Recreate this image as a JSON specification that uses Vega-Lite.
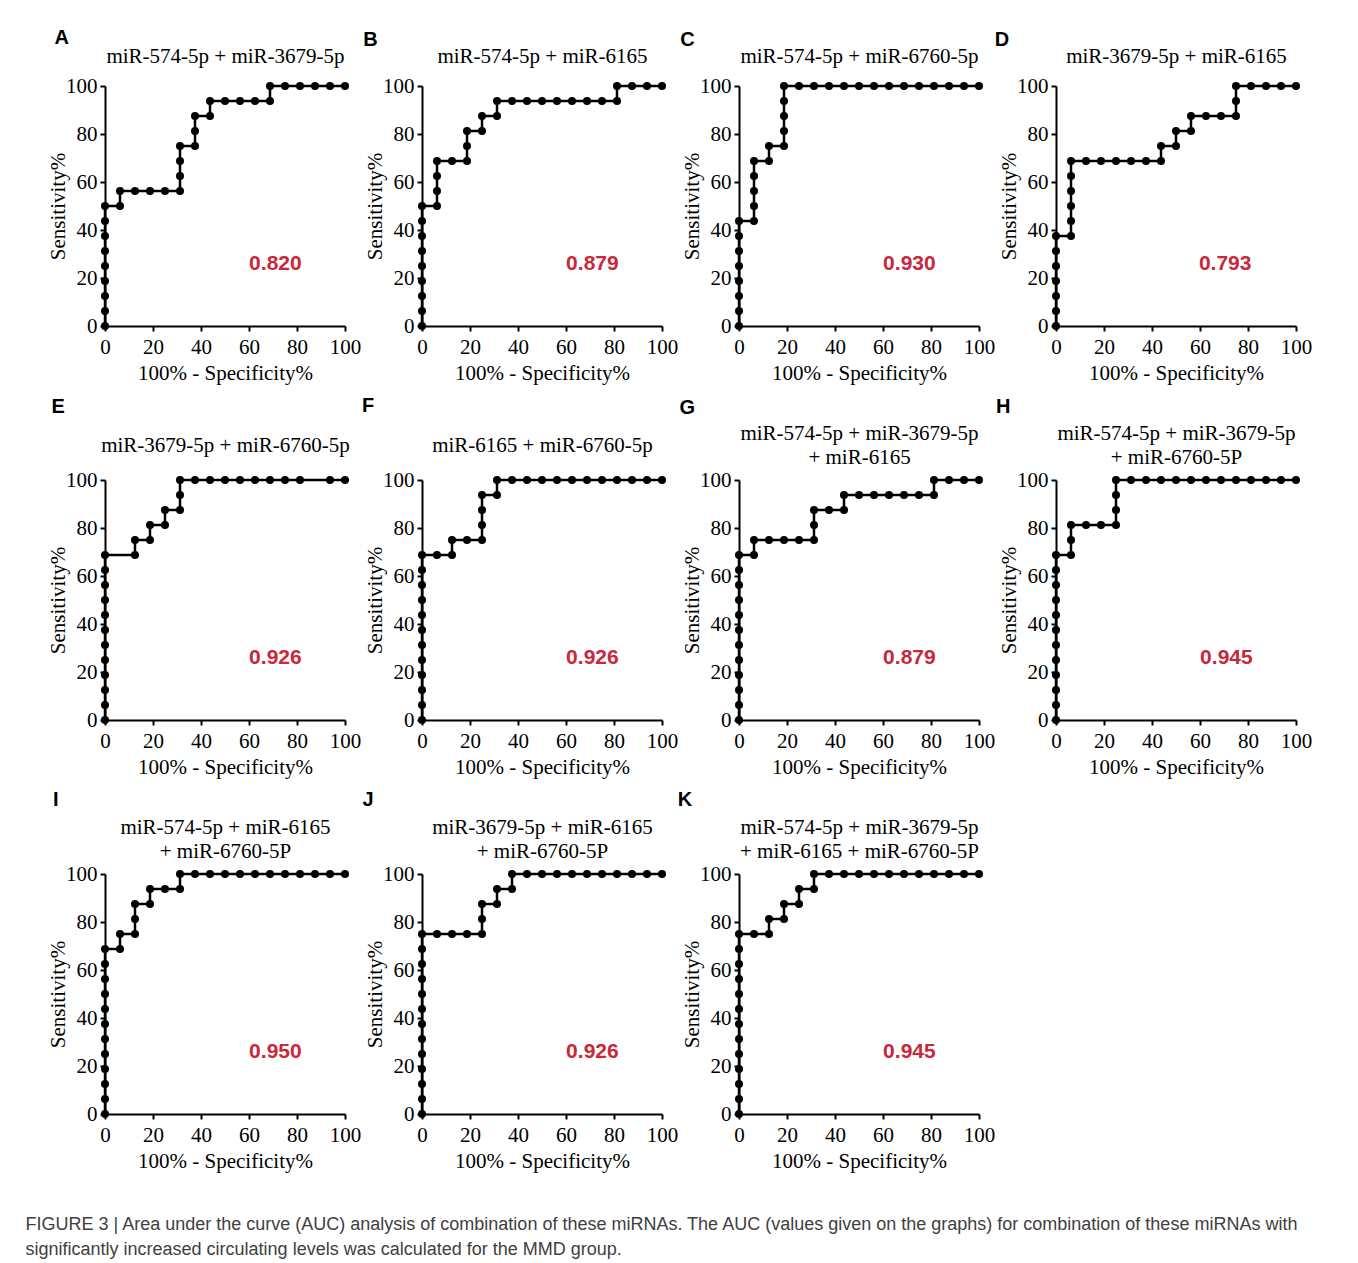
{
"$schema": "https://vega.github.io/schema/vega-lite/v6.json",
"background": "white",
"padding": {"left": 25, "top": 28, "right": 10, "bottom": 15},
"bounds": "flush",
"columns": 4,
"spacing": {"row": 154, "column": 77},
"title": {"text": ["FIGURE 3 | Area under the curve (AUC) analysis of combination of these miRNAs. The AUC (values given on the graphs) for combination of these miRNAs with", "significantly increased circulating levels was calculated for the MMD group."], "orient": "bottom", "anchor": "start", "frame": "bounds", "font": "Liberation Sans", "fontSize": 18, "fontWeight": "normal", "color": "#404040", "offset": 45, "dx": -22, "lineHeight": 25},
"datasets": {
"roc": [
{"p":"A","i":0,"x":0,"y":0},{"p":"A","i":1,"x":0,"y":6.25},{"p":"A","i":2,"x":0,"y":12.5},{"p":"A","i":3,"x":0,"y":18.75},{"p":"A","i":4,"x":0,"y":25},{"p":"A","i":5,"x":0,"y":31.25},{"p":"A","i":6,"x":0,"y":37.5},{"p":"A","i":7,"x":0,"y":43.75},{"p":"A","i":8,"x":0,"y":50},{"p":"A","i":9,"x":6.25,"y":50},{"p":"A","i":10,"x":6.25,"y":56.25},{"p":"A","i":11,"x":12.5,"y":56.25},{"p":"A","i":12,"x":18.75,"y":56.25},{"p":"A","i":13,"x":25,"y":56.25},{"p":"A","i":14,"x":31.25,"y":56.25},{"p":"A","i":15,"x":31.25,"y":62.5},{"p":"A","i":16,"x":31.25,"y":68.75},{"p":"A","i":17,"x":31.25,"y":75},{"p":"A","i":18,"x":37.5,"y":75},{"p":"A","i":19,"x":37.5,"y":81.25},{"p":"A","i":20,"x":37.5,"y":87.5},{"p":"A","i":21,"x":43.75,"y":87.5},{"p":"A","i":22,"x":43.75,"y":93.75},{"p":"A","i":23,"x":50,"y":93.75},{"p":"A","i":24,"x":56.25,"y":93.75},{"p":"A","i":25,"x":62.5,"y":93.75},{"p":"A","i":26,"x":68.75,"y":93.75},{"p":"A","i":27,"x":68.75,"y":100},{"p":"A","i":28,"x":75,"y":100},{"p":"A","i":29,"x":81.25,"y":100},{"p":"A","i":30,"x":87.5,"y":100},{"p":"A","i":31,"x":93.75,"y":100},{"p":"A","i":32,"x":100,"y":100},
{"p":"B","i":0,"x":0,"y":0},{"p":"B","i":1,"x":0,"y":6.25},{"p":"B","i":2,"x":0,"y":12.5},{"p":"B","i":3,"x":0,"y":18.75},{"p":"B","i":4,"x":0,"y":25},{"p":"B","i":5,"x":0,"y":31.25},{"p":"B","i":6,"x":0,"y":37.5},{"p":"B","i":7,"x":0,"y":43.75},{"p":"B","i":8,"x":0,"y":50},{"p":"B","i":9,"x":6.25,"y":50},{"p":"B","i":10,"x":6.25,"y":56.25},{"p":"B","i":11,"x":6.25,"y":62.5},{"p":"B","i":12,"x":6.25,"y":68.75},{"p":"B","i":13,"x":12.5,"y":68.75},{"p":"B","i":14,"x":18.75,"y":68.75},{"p":"B","i":15,"x":18.75,"y":75},{"p":"B","i":16,"x":18.75,"y":81.25},{"p":"B","i":17,"x":25,"y":81.25},{"p":"B","i":18,"x":25,"y":87.5},{"p":"B","i":19,"x":31.25,"y":87.5},{"p":"B","i":20,"x":31.25,"y":93.75},{"p":"B","i":21,"x":37.5,"y":93.75},{"p":"B","i":22,"x":43.75,"y":93.75},{"p":"B","i":23,"x":50,"y":93.75},{"p":"B","i":24,"x":56.25,"y":93.75},{"p":"B","i":25,"x":62.5,"y":93.75},{"p":"B","i":26,"x":68.75,"y":93.75},{"p":"B","i":27,"x":75,"y":93.75},{"p":"B","i":28,"x":81.25,"y":93.75},{"p":"B","i":29,"x":81.25,"y":100},{"p":"B","i":30,"x":87.5,"y":100},{"p":"B","i":31,"x":93.75,"y":100},{"p":"B","i":32,"x":100,"y":100},
{"p":"C","i":0,"x":0,"y":0},{"p":"C","i":1,"x":0,"y":6.25},{"p":"C","i":2,"x":0,"y":12.5},{"p":"C","i":3,"x":0,"y":18.75},{"p":"C","i":4,"x":0,"y":25},{"p":"C","i":5,"x":0,"y":31.25},{"p":"C","i":6,"x":0,"y":37.5},{"p":"C","i":7,"x":0,"y":43.75},{"p":"C","i":8,"x":6.25,"y":43.75},{"p":"C","i":9,"x":6.25,"y":50},{"p":"C","i":10,"x":6.25,"y":56.25},{"p":"C","i":11,"x":6.25,"y":62.5},{"p":"C","i":12,"x":6.25,"y":68.75},{"p":"C","i":13,"x":12.5,"y":68.75},{"p":"C","i":14,"x":12.5,"y":75},{"p":"C","i":15,"x":18.75,"y":75},{"p":"C","i":16,"x":18.75,"y":81.25},{"p":"C","i":17,"x":18.75,"y":87.5},{"p":"C","i":18,"x":18.75,"y":93.75},{"p":"C","i":19,"x":18.75,"y":100},{"p":"C","i":20,"x":25,"y":100},{"p":"C","i":21,"x":31.25,"y":100},{"p":"C","i":22,"x":37.5,"y":100},{"p":"C","i":23,"x":43.75,"y":100},{"p":"C","i":24,"x":50,"y":100},{"p":"C","i":25,"x":56.25,"y":100},{"p":"C","i":26,"x":62.5,"y":100},{"p":"C","i":27,"x":68.75,"y":100},{"p":"C","i":28,"x":75,"y":100},{"p":"C","i":29,"x":81.25,"y":100},{"p":"C","i":30,"x":87.5,"y":100},{"p":"C","i":31,"x":93.75,"y":100},{"p":"C","i":32,"x":100,"y":100},
{"p":"D","i":0,"x":0,"y":0},{"p":"D","i":1,"x":0,"y":6.25},{"p":"D","i":2,"x":0,"y":12.5},{"p":"D","i":3,"x":0,"y":18.75},{"p":"D","i":4,"x":0,"y":25},{"p":"D","i":5,"x":0,"y":31.25},{"p":"D","i":6,"x":0,"y":37.5},{"p":"D","i":7,"x":6.25,"y":37.5},{"p":"D","i":8,"x":6.25,"y":43.75},{"p":"D","i":9,"x":6.25,"y":50},{"p":"D","i":10,"x":6.25,"y":56.25},{"p":"D","i":11,"x":6.25,"y":62.5},{"p":"D","i":12,"x":6.25,"y":68.75},{"p":"D","i":13,"x":12.5,"y":68.75},{"p":"D","i":14,"x":18.75,"y":68.75},{"p":"D","i":15,"x":25,"y":68.75},{"p":"D","i":16,"x":31.25,"y":68.75},{"p":"D","i":17,"x":37.5,"y":68.75},{"p":"D","i":18,"x":43.75,"y":68.75},{"p":"D","i":19,"x":43.75,"y":75},{"p":"D","i":20,"x":50,"y":75},{"p":"D","i":21,"x":50,"y":81.25},{"p":"D","i":22,"x":56.25,"y":81.25},{"p":"D","i":23,"x":56.25,"y":87.5},{"p":"D","i":24,"x":62.5,"y":87.5},{"p":"D","i":25,"x":68.75,"y":87.5},{"p":"D","i":26,"x":75,"y":87.5},{"p":"D","i":27,"x":75,"y":93.75},{"p":"D","i":28,"x":75,"y":100},{"p":"D","i":29,"x":81.25,"y":100},{"p":"D","i":30,"x":87.5,"y":100},{"p":"D","i":31,"x":93.75,"y":100},{"p":"D","i":32,"x":100,"y":100},
{"p":"E","i":0,"x":0,"y":0},{"p":"E","i":1,"x":0,"y":6.25},{"p":"E","i":2,"x":0,"y":12.5},{"p":"E","i":3,"x":0,"y":18.75},{"p":"E","i":4,"x":0,"y":25},{"p":"E","i":5,"x":0,"y":31.25},{"p":"E","i":6,"x":0,"y":37.5},{"p":"E","i":7,"x":0,"y":43.75},{"p":"E","i":8,"x":0,"y":50},{"p":"E","i":9,"x":0,"y":56.25},{"p":"E","i":10,"x":0,"y":62.5},{"p":"E","i":11,"x":0,"y":68.75},{"p":"E","i":12,"x":12.5,"y":68.75},{"p":"E","i":13,"x":12.5,"y":75},{"p":"E","i":14,"x":18.75,"y":75},{"p":"E","i":15,"x":18.75,"y":81.25},{"p":"E","i":16,"x":25,"y":81.25},{"p":"E","i":17,"x":25,"y":87.5},{"p":"E","i":18,"x":31.25,"y":87.5},{"p":"E","i":19,"x":31.25,"y":93.75},{"p":"E","i":20,"x":31.25,"y":100},{"p":"E","i":21,"x":37.5,"y":100},{"p":"E","i":22,"x":43.75,"y":100},{"p":"E","i":23,"x":50,"y":100},{"p":"E","i":24,"x":56.25,"y":100},{"p":"E","i":25,"x":62.5,"y":100},{"p":"E","i":26,"x":68.75,"y":100},{"p":"E","i":27,"x":75,"y":100},{"p":"E","i":28,"x":81.25,"y":100},{"p":"E","i":29,"x":93.75,"y":100},{"p":"E","i":30,"x":100,"y":100},
{"p":"F","i":0,"x":0,"y":0},{"p":"F","i":1,"x":0,"y":6.25},{"p":"F","i":2,"x":0,"y":12.5},{"p":"F","i":3,"x":0,"y":18.75},{"p":"F","i":4,"x":0,"y":25},{"p":"F","i":5,"x":0,"y":31.25},{"p":"F","i":6,"x":0,"y":37.5},{"p":"F","i":7,"x":0,"y":43.75},{"p":"F","i":8,"x":0,"y":50},{"p":"F","i":9,"x":0,"y":56.25},{"p":"F","i":10,"x":0,"y":62.5},{"p":"F","i":11,"x":0,"y":68.75},{"p":"F","i":12,"x":6.25,"y":68.75},{"p":"F","i":13,"x":12.5,"y":68.75},{"p":"F","i":14,"x":12.5,"y":75},{"p":"F","i":15,"x":18.75,"y":75},{"p":"F","i":16,"x":25,"y":75},{"p":"F","i":17,"x":25,"y":81.25},{"p":"F","i":18,"x":25,"y":87.5},{"p":"F","i":19,"x":25,"y":93.75},{"p":"F","i":20,"x":31.25,"y":93.75},{"p":"F","i":21,"x":31.25,"y":100},{"p":"F","i":22,"x":37.5,"y":100},{"p":"F","i":23,"x":43.75,"y":100},{"p":"F","i":24,"x":50,"y":100},{"p":"F","i":25,"x":56.25,"y":100},{"p":"F","i":26,"x":62.5,"y":100},{"p":"F","i":27,"x":68.75,"y":100},{"p":"F","i":28,"x":75,"y":100},{"p":"F","i":29,"x":81.25,"y":100},{"p":"F","i":30,"x":87.5,"y":100},{"p":"F","i":31,"x":93.75,"y":100},{"p":"F","i":32,"x":100,"y":100},
{"p":"G","i":0,"x":0,"y":0},{"p":"G","i":1,"x":0,"y":6.25},{"p":"G","i":2,"x":0,"y":12.5},{"p":"G","i":3,"x":0,"y":18.75},{"p":"G","i":4,"x":0,"y":25},{"p":"G","i":5,"x":0,"y":31.25},{"p":"G","i":6,"x":0,"y":37.5},{"p":"G","i":7,"x":0,"y":43.75},{"p":"G","i":8,"x":0,"y":50},{"p":"G","i":9,"x":0,"y":56.25},{"p":"G","i":10,"x":0,"y":62.5},{"p":"G","i":11,"x":0,"y":68.75},{"p":"G","i":12,"x":6.25,"y":68.75},{"p":"G","i":13,"x":6.25,"y":75},{"p":"G","i":14,"x":12.5,"y":75},{"p":"G","i":15,"x":18.75,"y":75},{"p":"G","i":16,"x":25,"y":75},{"p":"G","i":17,"x":31.25,"y":75},{"p":"G","i":18,"x":31.25,"y":81.25},{"p":"G","i":19,"x":31.25,"y":87.5},{"p":"G","i":20,"x":37.5,"y":87.5},{"p":"G","i":21,"x":43.75,"y":87.5},{"p":"G","i":22,"x":43.75,"y":93.75},{"p":"G","i":23,"x":50,"y":93.75},{"p":"G","i":24,"x":56.25,"y":93.75},{"p":"G","i":25,"x":62.5,"y":93.75},{"p":"G","i":26,"x":68.75,"y":93.75},{"p":"G","i":27,"x":75,"y":93.75},{"p":"G","i":28,"x":81.25,"y":93.75},{"p":"G","i":29,"x":81.25,"y":100},{"p":"G","i":30,"x":87.5,"y":100},{"p":"G","i":31,"x":93.75,"y":100},{"p":"G","i":32,"x":100,"y":100},
{"p":"H","i":0,"x":0,"y":0},{"p":"H","i":1,"x":0,"y":6.25},{"p":"H","i":2,"x":0,"y":12.5},{"p":"H","i":3,"x":0,"y":18.75},{"p":"H","i":4,"x":0,"y":25},{"p":"H","i":5,"x":0,"y":31.25},{"p":"H","i":6,"x":0,"y":37.5},{"p":"H","i":7,"x":0,"y":43.75},{"p":"H","i":8,"x":0,"y":50},{"p":"H","i":9,"x":0,"y":56.25},{"p":"H","i":10,"x":0,"y":62.5},{"p":"H","i":11,"x":0,"y":68.75},{"p":"H","i":12,"x":6.25,"y":68.75},{"p":"H","i":13,"x":6.25,"y":75},{"p":"H","i":14,"x":6.25,"y":81.25},{"p":"H","i":15,"x":12.5,"y":81.25},{"p":"H","i":16,"x":18.75,"y":81.25},{"p":"H","i":17,"x":25,"y":81.25},{"p":"H","i":18,"x":25,"y":87.5},{"p":"H","i":19,"x":25,"y":93.75},{"p":"H","i":20,"x":25,"y":100},{"p":"H","i":21,"x":31.25,"y":100},{"p":"H","i":22,"x":37.5,"y":100},{"p":"H","i":23,"x":43.75,"y":100},{"p":"H","i":24,"x":50,"y":100},{"p":"H","i":25,"x":56.25,"y":100},{"p":"H","i":26,"x":62.5,"y":100},{"p":"H","i":27,"x":68.75,"y":100},{"p":"H","i":28,"x":75,"y":100},{"p":"H","i":29,"x":81.25,"y":100},{"p":"H","i":30,"x":87.5,"y":100},{"p":"H","i":31,"x":93.75,"y":100},{"p":"H","i":32,"x":100,"y":100},
{"p":"I","i":0,"x":0,"y":0},{"p":"I","i":1,"x":0,"y":6.25},{"p":"I","i":2,"x":0,"y":12.5},{"p":"I","i":3,"x":0,"y":18.75},{"p":"I","i":4,"x":0,"y":25},{"p":"I","i":5,"x":0,"y":31.25},{"p":"I","i":6,"x":0,"y":37.5},{"p":"I","i":7,"x":0,"y":43.75},{"p":"I","i":8,"x":0,"y":50},{"p":"I","i":9,"x":0,"y":56.25},{"p":"I","i":10,"x":0,"y":62.5},{"p":"I","i":11,"x":0,"y":68.75},{"p":"I","i":12,"x":6.25,"y":68.75},{"p":"I","i":13,"x":6.25,"y":75},{"p":"I","i":14,"x":12.5,"y":75},{"p":"I","i":15,"x":12.5,"y":81.25},{"p":"I","i":16,"x":12.5,"y":87.5},{"p":"I","i":17,"x":18.75,"y":87.5},{"p":"I","i":18,"x":18.75,"y":93.75},{"p":"I","i":19,"x":25,"y":93.75},{"p":"I","i":20,"x":31.25,"y":93.75},{"p":"I","i":21,"x":31.25,"y":100},{"p":"I","i":22,"x":37.5,"y":100},{"p":"I","i":23,"x":43.75,"y":100},{"p":"I","i":24,"x":50,"y":100},{"p":"I","i":25,"x":56.25,"y":100},{"p":"I","i":26,"x":62.5,"y":100},{"p":"I","i":27,"x":68.75,"y":100},{"p":"I","i":28,"x":75,"y":100},{"p":"I","i":29,"x":81.25,"y":100},{"p":"I","i":30,"x":87.5,"y":100},{"p":"I","i":31,"x":93.75,"y":100},{"p":"I","i":32,"x":100,"y":100},
{"p":"J","i":0,"x":0,"y":0},{"p":"J","i":1,"x":0,"y":6.25},{"p":"J","i":2,"x":0,"y":12.5},{"p":"J","i":3,"x":0,"y":18.75},{"p":"J","i":4,"x":0,"y":25},{"p":"J","i":5,"x":0,"y":31.25},{"p":"J","i":6,"x":0,"y":37.5},{"p":"J","i":7,"x":0,"y":43.75},{"p":"J","i":8,"x":0,"y":50},{"p":"J","i":9,"x":0,"y":56.25},{"p":"J","i":10,"x":0,"y":62.5},{"p":"J","i":11,"x":0,"y":68.75},{"p":"J","i":12,"x":0,"y":75},{"p":"J","i":13,"x":6.25,"y":75},{"p":"J","i":14,"x":12.5,"y":75},{"p":"J","i":15,"x":18.75,"y":75},{"p":"J","i":16,"x":25,"y":75},{"p":"J","i":17,"x":25,"y":81.25},{"p":"J","i":18,"x":25,"y":87.5},{"p":"J","i":19,"x":31.25,"y":87.5},{"p":"J","i":20,"x":31.25,"y":93.75},{"p":"J","i":21,"x":37.5,"y":93.75},{"p":"J","i":22,"x":37.5,"y":100},{"p":"J","i":23,"x":43.75,"y":100},{"p":"J","i":24,"x":50,"y":100},{"p":"J","i":25,"x":56.25,"y":100},{"p":"J","i":26,"x":62.5,"y":100},{"p":"J","i":27,"x":68.75,"y":100},{"p":"J","i":28,"x":75,"y":100},{"p":"J","i":29,"x":81.25,"y":100},{"p":"J","i":30,"x":87.5,"y":100},{"p":"J","i":31,"x":93.75,"y":100},{"p":"J","i":32,"x":100,"y":100},
{"p":"K","i":0,"x":0,"y":0},{"p":"K","i":1,"x":0,"y":6.25},{"p":"K","i":2,"x":0,"y":12.5},{"p":"K","i":3,"x":0,"y":18.75},{"p":"K","i":4,"x":0,"y":25},{"p":"K","i":5,"x":0,"y":31.25},{"p":"K","i":6,"x":0,"y":37.5},{"p":"K","i":7,"x":0,"y":43.75},{"p":"K","i":8,"x":0,"y":50},{"p":"K","i":9,"x":0,"y":56.25},{"p":"K","i":10,"x":0,"y":62.5},{"p":"K","i":11,"x":0,"y":68.75},{"p":"K","i":12,"x":0,"y":75},{"p":"K","i":13,"x":6.25,"y":75},{"p":"K","i":14,"x":12.5,"y":75},{"p":"K","i":15,"x":12.5,"y":81.25},{"p":"K","i":16,"x":18.75,"y":81.25},{"p":"K","i":17,"x":18.75,"y":87.5},{"p":"K","i":18,"x":25,"y":87.5},{"p":"K","i":19,"x":25,"y":93.75},{"p":"K","i":20,"x":31.25,"y":93.75},{"p":"K","i":21,"x":31.25,"y":100},{"p":"K","i":22,"x":37.5,"y":100},{"p":"K","i":23,"x":43.75,"y":100},{"p":"K","i":24,"x":50,"y":100},{"p":"K","i":25,"x":56.25,"y":100},{"p":"K","i":26,"x":62.5,"y":100},{"p":"K","i":27,"x":68.75,"y":100},{"p":"K","i":28,"x":75,"y":100},{"p":"K","i":29,"x":81.25,"y":100},{"p":"K","i":30,"x":87.5,"y":100},{"p":"K","i":31,"x":93.75,"y":100},{"p":"K","i":32,"x":100,"y":100}
]
},
"concat": [
{"width":240,"height":240,"resolve":{"axis":{"x":"independent"}},
 "layer":[
  {"data":{"name":"roc"},"transform":[{"filter":"datum.p === 'A'"}],"mark":"line","encoding":{"x":{"field":"x","type":"quantitative","scale":{"domain":[0,100],"nice":false},"axis":{"orient":"bottom","title":"100% - Specificity%"}},"y":{"field":"y","type":"quantitative","scale":{"domain":[0,100],"nice":false},"title":"Sensitivity%"},"order":{"field":"i","type":"quantitative"}}},
  {"data":{"name":"roc"},"transform":[{"filter":"datum.p === 'A'"}],"mark":"circle","encoding":{"x":{"field":"x","type":"quantitative","axis":{"orient":"top","title":"miR-574-5p + miR-3679-5p","domain":false,"ticks":false,"labels":false,"titlePadding":20}},"y":{"field":"y","type":"quantitative"}}},
  {"data":{"values":[{"p":"A","auc":0.820}]},"mark":{"type":"text","font":"Liberation Sans","fontSize":21,"fontWeight":"bold","color":"#c8283a","align":"center","baseline":"middle"},"encoding":{"x":{"datum":71,"type":"quantitative","axis":null},"y":{"datum":26,"type":"quantitative"},"text":{"field":"auc","format":".3f"}}},
  {"data":{"values":[{"p":"A"}]},"mark":{"type":"text","font":"Liberation Sans","fontSize":20,"fontWeight":"bold","color":"black","align":"center","baseline":"middle"},"encoding":{"x":{"datum":-18,"type":"quantitative","axis":null},"y":{"datum":120,"type":"quantitative"},"text":{"field":"p"}}}
 ]},
{"width":240,"height":240,"resolve":{"axis":{"x":"independent"}},
 "layer":[
  {"data":{"name":"roc"},"transform":[{"filter":"datum.p === 'B'"}],"mark":"line","encoding":{"x":{"field":"x","type":"quantitative","scale":{"domain":[0,100],"nice":false},"axis":{"orient":"bottom","title":"100% - Specificity%"}},"y":{"field":"y","type":"quantitative","scale":{"domain":[0,100],"nice":false},"title":"Sensitivity%"},"order":{"field":"i","type":"quantitative"}}},
  {"data":{"name":"roc"},"transform":[{"filter":"datum.p === 'B'"}],"mark":"circle","encoding":{"x":{"field":"x","type":"quantitative","axis":{"orient":"top","title":"miR-574-5p + miR-6165","domain":false,"ticks":false,"labels":false,"titlePadding":20}},"y":{"field":"y","type":"quantitative"}}},
  {"data":{"values":[{"p":"B","auc":0.879}]},"mark":{"type":"text","font":"Liberation Sans","fontSize":21,"fontWeight":"bold","color":"#c8283a","align":"center","baseline":"middle"},"encoding":{"x":{"datum":71,"type":"quantitative","axis":null},"y":{"datum":26,"type":"quantitative"},"text":{"field":"auc","format":".3f"}}},
  {"data":{"values":[{"p":"B"}]},"mark":{"type":"text","font":"Liberation Sans","fontSize":20,"fontWeight":"bold","color":"black","align":"center","baseline":"middle"},"encoding":{"x":{"datum":-21.5,"type":"quantitative","axis":null},"y":{"datum":119,"type":"quantitative"},"text":{"field":"p"}}}
 ]},
{"width":240,"height":240,"resolve":{"axis":{"x":"independent"}},
 "layer":[
  {"data":{"name":"roc"},"transform":[{"filter":"datum.p === 'C'"}],"mark":"line","encoding":{"x":{"field":"x","type":"quantitative","scale":{"domain":[0,100],"nice":false},"axis":{"orient":"bottom","title":"100% - Specificity%"}},"y":{"field":"y","type":"quantitative","scale":{"domain":[0,100],"nice":false},"title":"Sensitivity%"},"order":{"field":"i","type":"quantitative"}}},
  {"data":{"name":"roc"},"transform":[{"filter":"datum.p === 'C'"}],"mark":"circle","encoding":{"x":{"field":"x","type":"quantitative","axis":{"orient":"top","title":"miR-574-5p + miR-6760-5p","domain":false,"ticks":false,"labels":false,"titlePadding":20}},"y":{"field":"y","type":"quantitative"}}},
  {"data":{"values":[{"p":"C","auc":0.930}]},"mark":{"type":"text","font":"Liberation Sans","fontSize":21,"fontWeight":"bold","color":"#c8283a","align":"center","baseline":"middle"},"encoding":{"x":{"datum":71,"type":"quantitative","axis":null},"y":{"datum":26,"type":"quantitative"},"text":{"field":"auc","format":".3f"}}},
  {"data":{"values":[{"p":"C"}]},"mark":{"type":"text","font":"Liberation Sans","fontSize":20,"fontWeight":"bold","color":"black","align":"center","baseline":"middle"},"encoding":{"x":{"datum":-21.5,"type":"quantitative","axis":null},"y":{"datum":119,"type":"quantitative"},"text":{"field":"p"}}}
 ]},
{"width":240,"height":240,"resolve":{"axis":{"x":"independent"}},
 "layer":[
  {"data":{"name":"roc"},"transform":[{"filter":"datum.p === 'D'"}],"mark":"line","encoding":{"x":{"field":"x","type":"quantitative","scale":{"domain":[0,100],"nice":false},"axis":{"orient":"bottom","title":"100% - Specificity%"}},"y":{"field":"y","type":"quantitative","scale":{"domain":[0,100],"nice":false},"title":"Sensitivity%"},"order":{"field":"i","type":"quantitative"}}},
  {"data":{"name":"roc"},"transform":[{"filter":"datum.p === 'D'"}],"mark":"circle","encoding":{"x":{"field":"x","type":"quantitative","axis":{"orient":"top","title":"miR-3679-5p +  miR-6165","domain":false,"ticks":false,"labels":false,"titlePadding":20}},"y":{"field":"y","type":"quantitative"}}},
  {"data":{"values":[{"p":"D","auc":0.793}]},"mark":{"type":"text","font":"Liberation Sans","fontSize":21,"fontWeight":"bold","color":"#c8283a","align":"center","baseline":"middle"},"encoding":{"x":{"datum":70.5,"type":"quantitative","axis":null},"y":{"datum":26,"type":"quantitative"},"text":{"field":"auc","format":".3f"}}},
  {"data":{"values":[{"p":"D"}]},"mark":{"type":"text","font":"Liberation Sans","fontSize":20,"fontWeight":"bold","color":"black","align":"center","baseline":"middle"},"encoding":{"x":{"datum":-22.5,"type":"quantitative","axis":null},"y":{"datum":119,"type":"quantitative"},"text":{"field":"p"}}}
 ]},
{"width":240,"height":240,"resolve":{"axis":{"x":"independent"}},
 "layer":[
  {"data":{"name":"roc"},"transform":[{"filter":"datum.p === 'E'"}],"mark":"line","encoding":{"x":{"field":"x","type":"quantitative","scale":{"domain":[0,100],"nice":false},"axis":{"orient":"bottom","title":"100% - Specificity%"}},"y":{"field":"y","type":"quantitative","scale":{"domain":[0,100],"nice":false},"title":"Sensitivity%"},"order":{"field":"i","type":"quantitative"}}},
  {"data":{"name":"roc"},"transform":[{"filter":"datum.p === 'E'"}],"mark":"circle","encoding":{"x":{"field":"x","type":"quantitative","axis":{"orient":"top","title":"miR-3679-5p + miR-6760-5p","domain":false,"ticks":false,"labels":false,"titlePadding":25}},"y":{"field":"y","type":"quantitative"}}},
  {"data":{"values":[{"p":"E","auc":0.926}]},"mark":{"type":"text","font":"Liberation Sans","fontSize":21,"fontWeight":"bold","color":"#c8283a","align":"center","baseline":"middle"},"encoding":{"x":{"datum":71,"type":"quantitative","axis":null},"y":{"datum":26,"type":"quantitative"},"text":{"field":"auc","format":".3f"}}},
  {"data":{"values":[{"p":"E"}]},"mark":{"type":"text","font":"Liberation Sans","fontSize":20,"fontWeight":"bold","color":"black","align":"center","baseline":"middle"},"encoding":{"x":{"datum":-19.5,"type":"quantitative","axis":null},"y":{"datum":130.5,"type":"quantitative"},"text":{"field":"p"}}}
 ]},
{"width":240,"height":240,"resolve":{"axis":{"x":"independent"}},
 "layer":[
  {"data":{"name":"roc"},"transform":[{"filter":"datum.p === 'F'"}],"mark":"line","encoding":{"x":{"field":"x","type":"quantitative","scale":{"domain":[0,100],"nice":false},"axis":{"orient":"bottom","title":"100% - Specificity%"}},"y":{"field":"y","type":"quantitative","scale":{"domain":[0,100],"nice":false},"title":"Sensitivity%"},"order":{"field":"i","type":"quantitative"}}},
  {"data":{"name":"roc"},"transform":[{"filter":"datum.p === 'F'"}],"mark":"circle","encoding":{"x":{"field":"x","type":"quantitative","axis":{"orient":"top","title":"miR-6165 + miR-6760-5p","domain":false,"ticks":false,"labels":false,"titlePadding":25}},"y":{"field":"y","type":"quantitative"}}},
  {"data":{"values":[{"p":"F","auc":0.926}]},"mark":{"type":"text","font":"Liberation Sans","fontSize":21,"fontWeight":"bold","color":"#c8283a","align":"center","baseline":"middle"},"encoding":{"x":{"datum":71,"type":"quantitative","axis":null},"y":{"datum":26,"type":"quantitative"},"text":{"field":"auc","format":".3f"}}},
  {"data":{"values":[{"p":"F"}]},"mark":{"type":"text","font":"Liberation Sans","fontSize":20,"fontWeight":"bold","color":"black","align":"center","baseline":"middle"},"encoding":{"x":{"datum":-22.5,"type":"quantitative","axis":null},"y":{"datum":131,"type":"quantitative"},"text":{"field":"p"}}}
 ]},
{"width":240,"height":240,"resolve":{"axis":{"x":"independent"}},
 "layer":[
  {"data":{"name":"roc"},"transform":[{"filter":"datum.p === 'G'"}],"mark":"line","encoding":{"x":{"field":"x","type":"quantitative","scale":{"domain":[0,100],"nice":false},"axis":{"orient":"bottom","title":"100% - Specificity%"}},"y":{"field":"y","type":"quantitative","scale":{"domain":[0,100],"nice":false},"title":"Sensitivity%"},"order":{"field":"i","type":"quantitative"}}},
  {"data":{"name":"roc"},"transform":[{"filter":"datum.p === 'G'"}],"mark":"circle","encoding":{"x":{"field":"x","type":"quantitative","axis":{"orient":"top","title":["miR-574-5p + miR-3679-5p","+ miR-6165"],"domain":false,"ticks":false,"labels":false,"titlePadding":13}},"y":{"field":"y","type":"quantitative"}}},
  {"data":{"values":[{"p":"G","auc":0.879}]},"mark":{"type":"text","font":"Liberation Sans","fontSize":21,"fontWeight":"bold","color":"#c8283a","align":"center","baseline":"middle"},"encoding":{"x":{"datum":71,"type":"quantitative","axis":null},"y":{"datum":26,"type":"quantitative"},"text":{"field":"auc","format":".3f"}}},
  {"data":{"values":[{"p":"G"}]},"mark":{"type":"text","font":"Liberation Sans","fontSize":20,"fontWeight":"bold","color":"black","align":"center","baseline":"middle"},"encoding":{"x":{"datum":-21.5,"type":"quantitative","axis":null},"y":{"datum":130,"type":"quantitative"},"text":{"field":"p"}}}
 ]},
{"width":240,"height":240,"resolve":{"axis":{"x":"independent"}},
 "layer":[
  {"data":{"name":"roc"},"transform":[{"filter":"datum.p === 'H'"}],"mark":"line","encoding":{"x":{"field":"x","type":"quantitative","scale":{"domain":[0,100],"nice":false},"axis":{"orient":"bottom","title":"100% - Specificity%"}},"y":{"field":"y","type":"quantitative","scale":{"domain":[0,100],"nice":false},"title":"Sensitivity%"},"order":{"field":"i","type":"quantitative"}}},
  {"data":{"name":"roc"},"transform":[{"filter":"datum.p === 'H'"}],"mark":"circle","encoding":{"x":{"field":"x","type":"quantitative","axis":{"orient":"top","title":["miR-574-5p + miR-3679-5p","+ miR-6760-5P"],"domain":false,"ticks":false,"labels":false,"titlePadding":13}},"y":{"field":"y","type":"quantitative"}}},
  {"data":{"values":[{"p":"H","auc":0.945}]},"mark":{"type":"text","font":"Liberation Sans","fontSize":21,"fontWeight":"bold","color":"#c8283a","align":"center","baseline":"middle"},"encoding":{"x":{"datum":71,"type":"quantitative","axis":null},"y":{"datum":26,"type":"quantitative"},"text":{"field":"auc","format":".3f"}}},
  {"data":{"values":[{"p":"H"}]},"mark":{"type":"text","font":"Liberation Sans","fontSize":20,"fontWeight":"bold","color":"black","align":"center","baseline":"middle"},"encoding":{"x":{"datum":-22,"type":"quantitative","axis":null},"y":{"datum":130.5,"type":"quantitative"},"text":{"field":"p"}}}
 ]},
{"width":240,"height":240,"resolve":{"axis":{"x":"independent"}},
 "layer":[
  {"data":{"name":"roc"},"transform":[{"filter":"datum.p === 'I'"}],"mark":"line","encoding":{"x":{"field":"x","type":"quantitative","scale":{"domain":[0,100],"nice":false},"axis":{"orient":"bottom","title":"100% - Specificity%"}},"y":{"field":"y","type":"quantitative","scale":{"domain":[0,100],"nice":false},"title":"Sensitivity%"},"order":{"field":"i","type":"quantitative"}}},
  {"data":{"name":"roc"},"transform":[{"filter":"datum.p === 'I'"}],"mark":"circle","encoding":{"x":{"field":"x","type":"quantitative","axis":{"orient":"top","title":["miR-574-5p + miR-6165","+ miR-6760-5P"],"domain":false,"ticks":false,"labels":false,"titlePadding":13}},"y":{"field":"y","type":"quantitative"}}},
  {"data":{"values":[{"p":"I","auc":0.950}]},"mark":{"type":"text","font":"Liberation Sans","fontSize":21,"fontWeight":"bold","color":"#c8283a","align":"center","baseline":"middle"},"encoding":{"x":{"datum":71,"type":"quantitative","axis":null},"y":{"datum":26,"type":"quantitative"},"text":{"field":"auc","format":".3f"}}},
  {"data":{"values":[{"p":"I"}]},"mark":{"type":"text","font":"Liberation Sans","fontSize":20,"fontWeight":"bold","color":"black","align":"center","baseline":"middle"},"encoding":{"x":{"datum":-20.5,"type":"quantitative","axis":null},"y":{"datum":131,"type":"quantitative"},"text":{"field":"p"}}}
 ]},
{"width":240,"height":240,"resolve":{"axis":{"x":"independent"}},
 "layer":[
  {"data":{"name":"roc"},"transform":[{"filter":"datum.p === 'J'"}],"mark":"line","encoding":{"x":{"field":"x","type":"quantitative","scale":{"domain":[0,100],"nice":false},"axis":{"orient":"bottom","title":"100% - Specificity%"}},"y":{"field":"y","type":"quantitative","scale":{"domain":[0,100],"nice":false},"title":"Sensitivity%"},"order":{"field":"i","type":"quantitative"}}},
  {"data":{"name":"roc"},"transform":[{"filter":"datum.p === 'J'"}],"mark":"circle","encoding":{"x":{"field":"x","type":"quantitative","axis":{"orient":"top","title":["miR-3679-5p + miR-6165","+ miR-6760-5P"],"domain":false,"ticks":false,"labels":false,"titlePadding":13}},"y":{"field":"y","type":"quantitative"}}},
  {"data":{"values":[{"p":"J","auc":0.926}]},"mark":{"type":"text","font":"Liberation Sans","fontSize":21,"fontWeight":"bold","color":"#c8283a","align":"center","baseline":"middle"},"encoding":{"x":{"datum":71,"type":"quantitative","axis":null},"y":{"datum":26,"type":"quantitative"},"text":{"field":"auc","format":".3f"}}},
  {"data":{"values":[{"p":"J"}]},"mark":{"type":"text","font":"Liberation Sans","fontSize":20,"fontWeight":"bold","color":"black","align":"center","baseline":"middle"},"encoding":{"x":{"datum":-22.5,"type":"quantitative","axis":null},"y":{"datum":131,"type":"quantitative"},"text":{"field":"p"}}}
 ]},
{"width":240,"height":240,"resolve":{"axis":{"x":"independent"}},
 "layer":[
  {"data":{"name":"roc"},"transform":[{"filter":"datum.p === 'K'"}],"mark":"line","encoding":{"x":{"field":"x","type":"quantitative","scale":{"domain":[0,100],"nice":false},"axis":{"orient":"bottom","title":"100% - Specificity%"}},"y":{"field":"y","type":"quantitative","scale":{"domain":[0,100],"nice":false},"title":"Sensitivity%"},"order":{"field":"i","type":"quantitative"}}},
  {"data":{"name":"roc"},"transform":[{"filter":"datum.p === 'K'"}],"mark":"circle","encoding":{"x":{"field":"x","type":"quantitative","axis":{"orient":"top","title":["miR-574-5p + miR-3679-5p","+ miR-6165 + miR-6760-5P"],"domain":false,"ticks":false,"labels":false,"titlePadding":13}},"y":{"field":"y","type":"quantitative"}}},
  {"data":{"values":[{"p":"K","auc":0.945}]},"mark":{"type":"text","font":"Liberation Sans","fontSize":21,"fontWeight":"bold","color":"#c8283a","align":"center","baseline":"middle"},"encoding":{"x":{"datum":71,"type":"quantitative","axis":null},"y":{"datum":26,"type":"quantitative"},"text":{"field":"auc","format":".3f"}}},
  {"data":{"values":[{"p":"K"}]},"mark":{"type":"text","font":"Liberation Sans","fontSize":20,"fontWeight":"bold","color":"black","align":"center","baseline":"middle"},"encoding":{"x":{"datum":-22.5,"type":"quantitative","axis":null},"y":{"datum":131,"type":"quantitative"},"text":{"field":"p"}}}
 ]}
],
"config": {
 "view": {"stroke": null},
 "font": "Liberation Serif",
 "axis": {"domainColor": "black", "domainWidth": 2, "tickColor": "black", "tickWidth": 2, "tickSize": 5, "labelFont": "Liberation Serif", "labelFontSize": 21, "labelColor": "black", "labelFlush": false, "labelOverlap": false, "titleFont": "Liberation Serif", "titleFontSize": 21, "titleFontWeight": "normal", "titleColor": "black", "titleLineHeight": 24, "grid": false, "tickCount": 6},
 "axisX": {"labelPadding": 5, "titlePadding": 5},
 "axisY": {"labelPadding": 3, "titlePadding": -3},
 "line": {"color": "black", "strokeWidth": 2.5},
 "circle": {"color": "black", "size": 64, "opacity": 1}
}
}
